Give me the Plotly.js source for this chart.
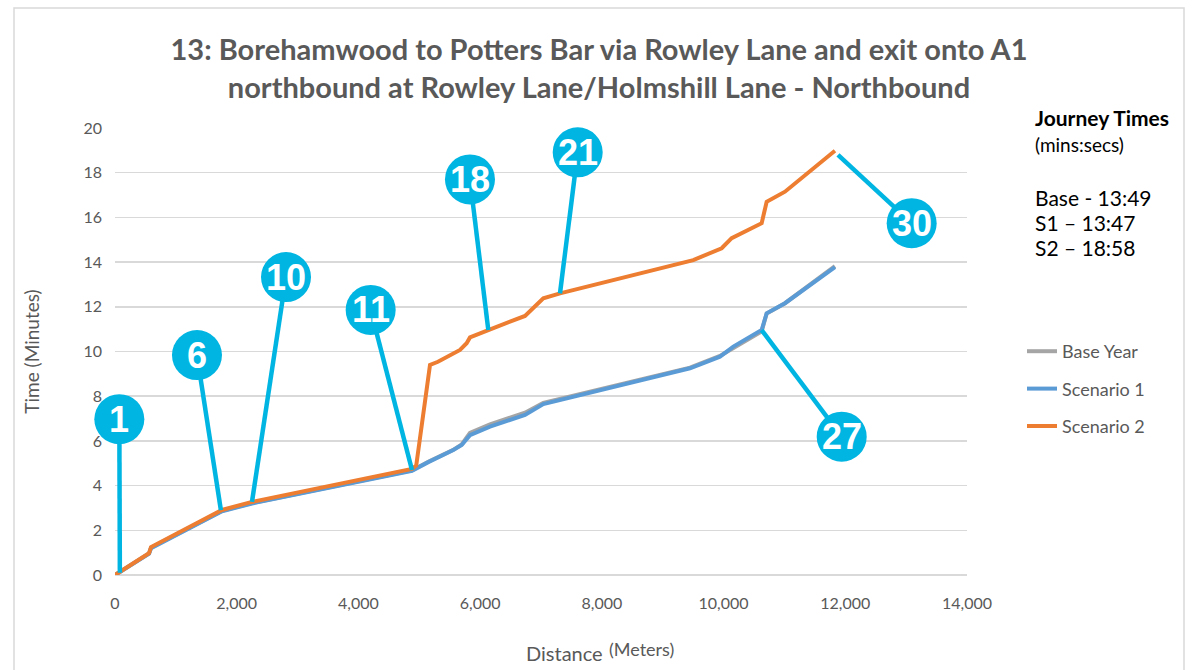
<!DOCTYPE html>
<html>
<head>
<meta charset="utf-8">
<script src="https://cdn.plot.ly/plotly-3.0.1.min.js"></script>
<style>
html,body{margin:0;padding:0;background:#fff;}
#chart{width:1198px;height:670px;}
</style>
</head>
<body>
<div id="chart"></div>
<script>
// ---- Data ----
const seriesNames = ["Base Year", "Scenario 1", "Scenario 2"];

const distS1 = [0, 559, 592, 1068, 1758, 2251, 4880, 5148, 5340, 5559, 5697, 5833, 6162, 6737, 7038, 9448, 9941, 10160, 10626, 10708, 11009, 11830];
const timeBase = [0, 0.96, 1.22, 1.90, 2.87, 3.22, 4.68, 5.07, 5.30, 5.60, 5.84, 6.36, 6.74, 7.26, 7.70, 9.28, 9.80, 10.14, 10.90, 11.70, 12.16, 13.82];
const timeS1   = [0, 0.95, 1.20, 1.88, 2.85, 3.20, 4.66, 5.05, 5.29, 5.59, 5.82, 6.26, 6.64, 7.16, 7.65, 9.25, 9.77, 10.22, 10.96, 11.71, 12.16, 13.78];

const distS2 = [0, 559, 592, 1068, 1758, 2251, 4880, 4950, 5176, 5307, 5669, 5778, 5833, 6134, 6737, 7038, 7312, 9502, 9969, 10133, 10626, 10708, 11009, 11830];
const timeS2 = [0, 0.98, 1.25, 1.92, 2.91, 3.27, 4.75, 4.90, 9.40, 9.54, 10.07, 10.37, 10.63, 10.96, 11.59, 12.38, 12.60, 14.09, 14.62, 15.07, 15.74, 16.70, 17.15, 18.98];

const xTicks = [0, 2000, 4000, 6000, 8000, 10000, 12000, 14000];
const yTicks = [0, 2, 4, 6, 8, 10, 12, 14, 16, 18, 20];

// Callout markers: label, point on the route (distance, time), bubble centre (distance, time)
const calloutLabels = ["1", "6", "10", "11", "18", "21", "27", "30"];
const calloutPointX = [80, 1740, 2251, 4880, 6134, 7312, 10626, 11880];
const calloutPointY = [0.1, 2.9, 3.27, 4.7, 10.96, 12.6, 10.96, 18.8];
const calloutBubbleX = [71, 1347, 2810, 4201, 5833, 7603, 11941, 13091];
const calloutBubbleY = [6.97, 9.84, 13.33, 11.86, 17.70, 18.91, 6.19, 15.74];

const journeyLines = ["Base - 13:49", "S1 \u2013 13:47", "S2 \u2013 18:58"];

// ---- Styling ----
const X_MAX = 14000, Y_MAX = 20;
const cyan = "#00B5E2";
const grey = "#595959";
const font = "Lato, 'Open Sans', sans-serif";

const traces = [
  {x: distS1, y: timeBase, name: seriesNames[0], mode: "lines", line: {color: "#A5A5A5", width: 4}, legendgroup: "a"},
  {x: distS1, y: timeS1,   name: seriesNames[1], mode: "lines", line: {color: "#5B9BD5", width: 4}, legendgroup: "b"},
  {x: distS2, y: timeS2,   name: seriesNames[2], mode: "lines", line: {color: "#ED7D31", width: 4}, legendgroup: "c"}
];

const shapes = [];
const annotations = [];

// Chart border
shapes.push({type: "rect", xref: "paper", yref: "paper",
  x0: (14 - 115) / 852, x1: (1184 - 115) / 852, y0: (575 - 690) / 447, y1: (575 - 8) / 447,
  line: {color: "#D9D9D9", width: 1.5}, fillcolor: "rgba(0,0,0,0)", layer: "below"});

// Callout lines
calloutLabels.forEach((lab, i) => {
  shapes.push({type: "line", xref: "paper", yref: "paper", layer: "above",
    x0: calloutPointX[i] / X_MAX, y0: calloutPointY[i] / Y_MAX,
    x1: calloutBubbleX[i] / X_MAX, y1: calloutBubbleY[i] / Y_MAX,
    line: {color: cyan, width: 4.5}});
});
// Callout bubbles
calloutLabels.forEach((lab, i) => {
  shapes.push({type: "circle", xref: "paper", yref: "paper", layer: "above",
    xsizemode: "pixel", ysizemode: "pixel",
    xanchor: calloutBubbleX[i] / X_MAX, yanchor: calloutBubbleY[i] / Y_MAX,
    x0: -25, x1: 25, y0: -25, y1: 25,
    fillcolor: cyan, line: {width: 0}});
  annotations.push({xref: "paper", yref: "paper",
    x: calloutBubbleX[i] / X_MAX, y: calloutBubbleY[i] / Y_MAX,
    text: "<b>" + lab + "</b>", showarrow: false, xanchor: "center", yanchor: "middle",
    font: {family: "'Liberation Sans', Arial, sans-serif", size: 36, color: "#ffffff"}});
});

// Journey times panel
const px = v => (v - 115) / 852;
const py = v => (575 - v) / 447;
annotations.push({xref: "paper", yref: "paper", x: px(1033), y: py(117), xanchor: "left", yanchor: "middle",
  text: "<b>Journey Times</b>", showarrow: false, font: {family: font, size: 21, color: "#000"}});
annotations.push({xref: "paper", yref: "paper", x: px(1033), y: py(144), xanchor: "left", yanchor: "middle",
  text: "(mins:secs)", showarrow: false, font: {family: font, size: 19, color: "#000"}});
journeyLines.forEach((t, i) => {
  annotations.push({xref: "paper", yref: "paper", x: px(1033), y: py(197 + i * 25.5), xanchor: "left", yanchor: "middle",
    text: t, showarrow: false, font: {family: font, size: 21, color: "#000"}});
});

// X axis title (offset to the right as in the reference), unit raised and smaller
annotations.push({xref: "paper", yref: "paper", x: px(605), y: py(653), xanchor: "right", yanchor: "middle",
  text: "Distance", showarrow: false, font: {family: font, size: 20, color: grey}});
annotations.push({xref: "paper", yref: "paper", x: px(607), y: py(649), xanchor: "left", yanchor: "middle",
  text: "(Meters)", showarrow: false, font: {family: font, size: 18, color: grey}});

const layout = {
  width: 1198, height: 670,
  margin: {l: 115, r: 231, t: 128, b: 95},
  paper_bgcolor: "#ffffff", plot_bgcolor: "#ffffff",
  title: {
    text: "<b>13: Borehamwood to Potters Bar via Rowley Lane and exit onto A1<br>northbound at Rowley Lane/Holmshill Lane - Northbound</b>",
    font: {family: font, size: 29, color: grey},
    x: 0.5, xref: "container", xanchor: "center",
    y: 1 - 60 / 670, yref: "container", yanchor: "middle"
  },
  xaxis: {
    range: [0, X_MAX], tickvals: xTicks, tickformat: ",d",
    showgrid: false, zeroline: false, showline: false, ticks: "", ticklabelstandoff: 17,
    tickfont: {family: font, size: 16, color: grey}, fixedrange: true
  },
  yaxis: {
    range: [0, Y_MAX], tickvals: yTicks,
    showgrid: true, gridcolor: "#D9D9D9", gridwidth: 1.5,
    zeroline: true, zerolinecolor: "#D9D9D9", zerolinewidth: 1.5,
    showline: false, ticks: "", ticklabelstandoff: 12,
    tickfont: {family: font, size: 16, color: grey},
    title: {text: "Time (Minutes)", font: {family: font, size: 19, color: grey}, standoff: 38},
    fixedrange: true
  },
  showlegend: true,
  legend: {
    x: px(1022), xanchor: "left", y: py(333), yanchor: "top",
    font: {family: font, size: 18, color: grey},
    tracegroupgap: 11, traceorder: "grouped",
    bgcolor: "rgba(0,0,0,0)", borderwidth: 0
  },
  shapes: shapes,
  annotations: annotations
};

Plotly.newPlot("chart", traces, layout, {displayModeBar: false, staticPlot: true});
</script>
</body>
</html>
